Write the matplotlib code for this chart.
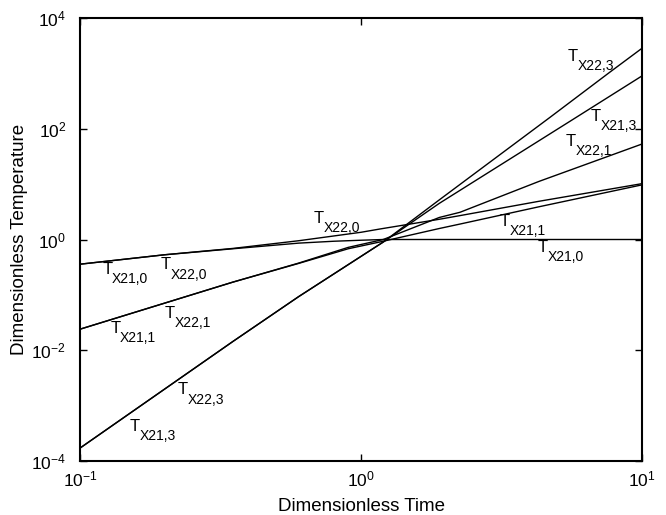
import matplotlib
matplotlib.use("Agg")
import matplotlib.pyplot as plt
from matplotlib.ticker import LogFormatterMathtext, NullLocator, FixedLocator

plt.rcParams['font.family'] = ['Liberation Sans', 'DejaVu Sans']
plt.rcParams['mathtext.fontset'] = 'custom'
plt.rcParams['mathtext.rm'] = 'Liberation Sans'
plt.rcParams['mathtext.it'] = 'Liberation Sans'
plt.rcParams['mathtext.default'] = 'regular'

# ---- data ----
x_21_0 = [0.1, 0.2, 0.35, 0.6, 0.8, 1.0, 1.2, 2.0, 10.0]
y_21_0 = [0.358, 0.53, 0.68, 0.86, 0.93, 0.97, 1.0, 1.0, 1.0]

x_22_0 = [0.1, 0.2, 0.35, 0.6, 1.0, 1.17, 1.9, 2.25, 4.3, 10.0]
y_22_0 = [0.358, 0.53, 0.69, 0.95, 1.35, 1.55, 2.32, 2.7, 4.9, 10.2]

x_21_1 = [0.1, 0.35, 0.6, 0.9, 1.2, 1.9, 2.25, 4.3, 10.0]
y_21_1 = [0.024, 0.17, 0.37, 0.68, 0.93, 1.58, 1.9, 3.9, 9.7]

x_22_1 = [0.1, 0.35, 0.6, 0.9, 1.2, 1.9, 2.25, 4.3, 10.0]
y_22_1 = [0.024, 0.17, 0.375, 0.72, 1.0, 2.5, 3.1, 11.2, 53.0]

x_21_3 = [0.1, 0.35, 0.6, 1.2, 1.9, 5.55, 10.0]
y_21_3 = [1.71e-4, 0.0144, 0.093, 0.9, 4.5, 137.0, 900.0]

x_22_3 = [0.1, 0.35, 0.6, 1.2, 1.9, 4.7, 7.7, 10.0]
y_22_3 = [1.71e-4, 0.0144, 0.093, 0.9, 5.2, 160.0, 1060.0, 2840.0]

series = [
    (x_21_0, y_21_0),
    (x_22_0, y_22_0),
    (x_21_1, y_21_1),
    (x_22_1, y_22_1),
    (x_21_3, y_21_3),
    (x_22_3, y_22_3),
]

label_subs = ['X22,3', 'X21,3', 'X22,1', 'X22,0', 'X21,1', 'X21,0',
              'X21,0', 'X22,0', 'X21,1', 'X22,1', 'X22,3', 'X21,3']
label_x = [5.43, 6.58, 5.35, 0.679, 3.11, 4.26,
           0.12, 0.194, 0.128, 0.2, 0.223, 0.15]
label_y = [1995, 165, 58.5, 2.42, 2.1, 0.726,
           0.291, 0.348, 0.0251, 0.0468, 0.00193, 4.2e-4]

# ---- figure ----
fig = plt.figure(figsize=(6.66, 5.15), dpi=100)
ax = fig.add_axes([80/666, 1 - 461/515, 562/666, 443/515])

for xs, ys in series:
    ax.plot(xs, ys, color='black', lw=1.0)

ax.set_xscale('log')
ax.set_yscale('log')
ax.set_xlim(0.1, 10)
ax.set_ylim(1e-4, 1e4)

ax.xaxis.set_major_locator(FixedLocator([0.1, 1, 10]))
ax.yaxis.set_major_locator(FixedLocator([1e-4, 1e-2, 1, 1e2, 1e4]))
ax.xaxis.set_minor_locator(NullLocator())
ax.yaxis.set_minor_locator(NullLocator())
ax.xaxis.set_major_formatter(LogFormatterMathtext())
ax.yaxis.set_major_formatter(LogFormatterMathtext())

ax.tick_params(which='major', direction='in', length=5, width=1.0,
               top=True, right=True, labelsize=12.5)
ax.tick_params(axis='x', pad=6)
ax.tick_params(axis='y', pad=10)
for s in ax.spines.values():
    s.set_linewidth(1.5)

ax.set_xlabel('Dimensionless Time', fontsize=13.5, labelpad=6)
ax.set_ylabel('Dimensionless Temperature', fontsize=13.5, labelpad=2)

for sub, lx, ly in zip(label_subs, label_x, label_y):
    ax.text(lx, ly, 'T', ha='left', va='center', fontsize=12)
    ax.annotate(sub, xy=(lx, ly), xytext=(7.0, -7.0), textcoords='offset points',
                ha='left', va='center', fontsize=10)

fig.savefig('out.png', dpi=100)
